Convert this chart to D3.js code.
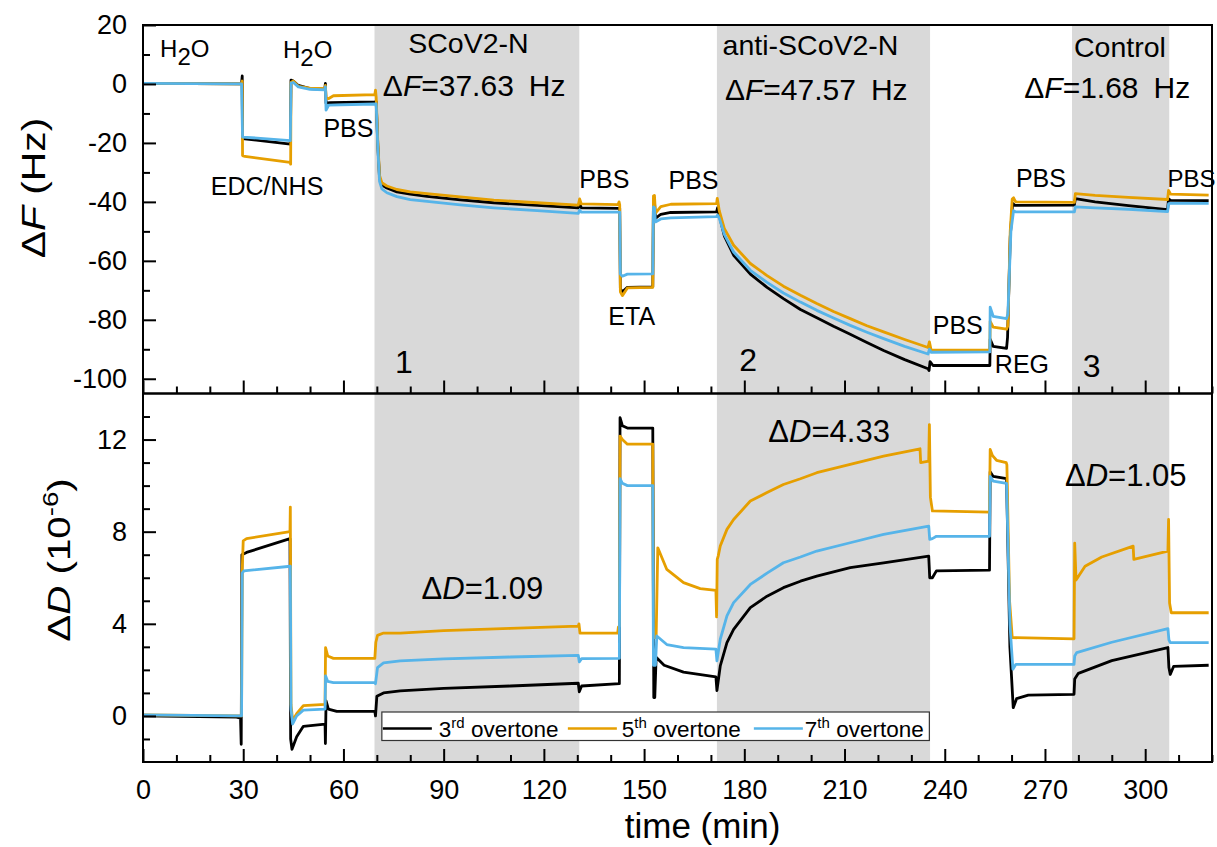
<!DOCTYPE html>
<html>
<head>
<meta charset="utf-8">
<script src="https://cdn.jsdelivr.net/npm/d3@7"></script>
<style>
  body { margin: 0; background: #fff; }
  svg { display: block; font-family: "Liberation Sans", Arial, sans-serif; }
</style>
</head>
<body>
<svg id="chart" width="1217" height="847"></svg>
<script>
// ---- data (time in min) ----
var timeTicks = [0, 30, 60, 90, 120, 150, 180, 210, 240, 270, 300];
var fTicks = [-100, -80, -60, -40, -20, 0, 20];
var dTicks = [0, 4, 8, 12];

// shaded injection windows [start, end] in min
var bands = [[69.3, 130.6], [171.8, 235.6], [278.1, 307.2]];

var seriesNames = ["3rd", "5th", "7th"];
var seriesColors = ["#000000", "#E69F00", "#56B4E9"];

// ΔF (Hz), [time, value]
var f3 = [[0,0.2],[29.5,0],[29.7,2.7],[29.8,-18.5],[44.1,-20.4],[44.3,1.3],[45,1.0],[46.5,-0.5],[50,-1.6],[54.4,-1.8],
  [54.6,0.2],[54.8,-6.5],[56,-6.3],[69.4,-6.1],[69.8,-6.0],[70.3,-21],[70.8,-31.8],[71.5,-34.2],[73,-35.3],[76,-36.6],
  [80,-37.4],[85,-38.1],[95,-39.3],[105,-40.3],[118,-41.2],[130.3,-42.0],[130.7,-40.5],[131.2,-42.0],[142.7,-42.2],
  [142.9,-69.5],[143.5,-70.5],[145,-69],[152.6,-68.8],[152.8,-39.5],[153.1,-39.8],[153.4,-45.6],[155,-44.2],[158,-43.6],
  [171.7,-43.4],[172.0,-42],[172.5,-44.5],[174,-51.5],[176.8,-58.1],[181.8,-64.5],[186.8,-69],[191.7,-72.8],[196.8,-76.5],
  [201.7,-79.3],[206.7,-82.2],[211.7,-84.9],[216.7,-87.7],[221.7,-90.4],[228,-93.5],[235.0,-96.6],[235.3,-97.2],
  [235.6,-94.2],[236.5,-95.5],[253.5,-95.5],[253.6,-86.6],[254.5,-89.0],[258.5,-89.7],[258.8,-86],[259.6,-52],
  [260.3,-40.5],[261,-41.2],[278.8,-41.1],[279.1,-38.9],[285,-40],[295,-41.3],[306.7,-42.6],[307.0,-39.0],
  [307.6,-39.5],[319,-39.6]];
var f5 = [[0,0.2],[29.5,0],[29.7,1.0],[29.8,-24.3],[30.5,-24.6],[44.0,-26.6],[44.2,-27.2],[44.3,0.5],[45,1.0],[46.5,-0.8],
  [50,-1.4],[54.4,-1.6],[54.6,-0.5],[54.8,-4.8],[55.5,-5.0],[57,-4.0],[69.4,-3.6],[69.6,-2.1],[69.8,-4.5],[70.3,-20],
  [70.8,-31.0],[71.5,-33.5],[73,-34.6],[76,-35.8],[80,-36.6],[85,-37.2],[95,-38.3],[105,-39.4],[118,-40.3],[130.3,-41.1],
  [130.7,-39.0],[131.2,-40.7],[142.2,-40.9],[142.5,-40.0],[142.7,-41],[142.9,-70.5],[143.5,-71.8],[145,-69.2],
  [152.6,-69.0],[152.8,-38],[153.1,-37.8],[153.4,-43.8],[155,-41.6],[158,-40.8],[171.7,-40.6],[171.9,-38.8],[172.5,-43],
  [174,-49],[176.8,-54.7],[181.8,-60.9],[186.8,-65],[191.7,-68.6],[196.8,-71.7],[201.7,-74.5],[206.7,-77.2],[211.7,-79.6],
  [216.7,-82],[221.7,-84.1],[228,-86.7],[235.0,-89.4],[235.4,-87.5],[235.9,-90.2],[253.5,-90.3],[253.6,-80.5],
  [254.5,-82.5],[258.5,-83.2],[258.9,-82],[259.6,-50],[260.2,-39],[260.6,-38.6],[261.2,-40],[278.8,-40.2],[279.1,-37.2],
  [285,-37.8],[295,-38.5],[306.7,-39.2],[307.0,-36.1],[307.6,-37.4],[319,-37.7]];
var f7 = [[0,0.2],[29.5,0],[29.8,-18.0],[44.1,-19.2],[44.3,0.3],[45,0.5],[46.5,-1.0],[50,-1.8],[54.4,-2.0],[54.6,-1.0],
  [54.8,-8.9],[55.6,-7.2],[69.4,-6.8],[69.8,-6.8],[70.3,-22],[70.8,-33],[71.5,-35.6],[73,-36.9],[76,-38.2],[80,-39.2],
  [85,-39.8],[95,-41.0],[105,-42.0],[118,-43.0],[130.3,-43.9],[130.7,-42.8],[131.2,-43.5],[142.7,-43.5],[142.9,-64.5],
  [143.5,-65.2],[145,-64.5],[152.6,-64.4],[152.8,-41.7],[153.1,-42],[153.4,-46.8],[155,-45.8],[158,-45.4],[171.7,-45.0],
  [172.0,-44.5],[172.5,-45.5],[174,-51],[176.8,-57.0],[181.8,-63.2],[186.8,-67.3],[191.7,-70.9],[196.8,-74.0],
  [201.7,-76.8],[206.7,-79.4],[211.7,-81.9],[216.7,-84.2],[221.7,-86.4],[228,-89],[235.0,-91.6],[235.4,-90.0],
  [235.9,-91.0],[253.5,-90.9],[253.6,-75.7],[254.5,-78.8],[258.5,-79.6],[258.9,-78],[259.8,-50],[260.6,-43],
  [261.3,-43.4],[278.8,-43.4],[279.1,-41.7],[285,-42.0],[295,-42.5],[306.7,-43.3],[307.0,-40.6],[307.6,-40.5],[319,-40.5]];

// ΔD (1e-6), [time, value]
var d3v = [[0,0],[28,-0.05],[29.2,-0.1],[29.4,-1.23],[29.6,7.0],[31,7.1],[44.0,7.7],[44.2,-1.0],[44.6,-1.45],[46,-0.9],
  [48,-0.45],[54.5,-0.36],[54.6,-1.2],[54.8,0.65],[55.5,0.3],[58,0.2],[69.4,0.2],[69.6,0.0],[70.0,0.85],[72,1.0],
  [77,1.09],[90,1.2],[110,1.3],[130.3,1.42],[130.6,1.05],[131.3,1.3],[142.6,1.4],[142.8,12.95],[143.5,12.6],[145,12.5],
  [152.6,12.5],[152.9,0.8],[153.2,0.8],[153.6,2.55],[156,2.2],[161.8,1.9],[171.5,1.7],[171.8,1.1],[172.8,2.17],
  [174.8,3.18],[176.8,3.76],[181.8,4.70],[186.8,5.2],[191.7,5.57],[196.8,5.85],[201.7,6.07],[211.7,6.44],[221.7,6.65],
  [235.2,6.94],[235.5,6.0],[236.3,6.0],[237.5,6.3],[253.4,6.33],[253.6,10.6],[254.5,10.4],[258.5,10.3],[259.5,3],
  [260.5,0.36],[261.5,0.75],[265,0.9],[278.7,0.94],[278.9,1.6],[280,1.85],[290,2.4],[306.8,2.97],[307.1,2.1],
  [307.5,1.8],[308.5,2.15],[319,2.2]];
var d5 = [[0,0.05],[29.5,0.0],[29.7,6.3],[30.0,7.6],[31,7.7],[44.0,8.0],[44.1,9.07],[44.3,0.5],[44.8,-0.2],[46,0.1],
  [48,0.45],[54.5,0.5],[54.65,2.97],[55.3,2.6],[57,2.5],[69.4,2.5],[69.7,3.2],[70.2,3.5],[72,3.6],[77,3.6],[90,3.7],
  [110,3.8],[130.3,3.9],[130.5,4.0],[130.8,3.6],[142.1,3.6],[142.3,3.85],[142.6,3.9],[142.8,12.15],[143.5,12.0],
  [145,11.8],[152.6,11.8],[152.8,3.4],[153.6,3.4],[154.1,7.3],[156.8,6.36],[161.8,5.79],[166.8,5.53],[171.5,5.45],
  [171.7,4.3],[171.9,6.8],[172.2,6.95],[172.8,7.38],[174.8,8.1],[176.8,8.53],[181.8,9.33],[186.8,9.7],[191.7,10.05],
  [196.8,10.3],[201.7,10.56],[211.7,10.92],[221.7,11.28],[232.6,11.6],[232.8,11.0],[235.2,11.06],[235.4,12.65],
  [235.7,9.5],[236.3,8.9],[253.4,8.85],[253.6,11.57],[254.3,11.3],[255.5,11.1],[258.4,11.0],[258.6,10.9],[259.4,5],
  [260.2,3.4],[278.7,3.35],[278.9,7.5],[279.3,5.9],[282,6.5],[287,6.9],[296.4,7.37],[296.6,6.8],[306.8,7.16],
  [307.0,8.53],[307.3,4.9],[307.8,4.48],[319,4.48]];
var d7 = [[0,0.05],[29.5,0.0],[29.7,6.2],[30.2,6.3],[44.1,6.5],[44.3,0.3],[44.8,-0.35],[46,0.0],[48,0.25],[54.5,0.3],
  [54.65,1.74],[55.3,1.5],[57,1.45],[69.4,1.45],[69.6,1.4],[70.2,2.1],[72,2.3],[77,2.39],[90,2.48],[110,2.56],
  [130.3,2.63],[130.6,2.35],[131.3,2.49],[142.6,2.5],[142.8,10.3],[143.5,10.1],[145,10.0],[152.6,10.0],[152.8,2.2],
  [153.4,2.2],[153.8,3.47],[156.8,3.1],[161.8,2.97],[171.5,2.9],[171.8,2.39],[172.8,3.33],[174.8,4.34],[176.8,4.92],
  [181.8,5.71],[186.8,6.2],[191.7,6.65],[196.8,6.9],[201.7,7.16],[211.7,7.52],[221.7,7.88],[235.2,8.24],[235.5,7.67],
  [236.3,7.7],[237.5,7.8],[253.4,7.8],[253.6,10.4],[254.5,10.2],[258.5,10.1],[259.5,4],[260.4,2.03],[261.3,2.24],
  [278.7,2.24],[278.9,2.6],[279.5,2.75],[290,3.2],[306.8,3.79],[307.1,3.3],[307.5,3.18],[319,3.18]];

// ---- layout ----
var margin = {top: 25, right: 5, bottom: 85, left: 143},
    width = 1217 - margin.left - margin.right,
    panelH = (847 - margin.top - margin.bottom) / 2;

var x = d3.scaleLinear().domain([0, 320]).range([0, width]);
var yF = d3.scaleLinear().domain([-105, 20]).range([panelH, 0]);
var yD = d3.scaleLinear().domain([-2, 14]).range([panelH, 0]);

var svg = d3.select("#chart");
var root = svg.append("g")
  .attr("transform", "translate(" + margin.left + "," + margin.top + ")");

// shaded bands across both panels
root.selectAll(".band")
  .data(bands)
  .enter().append("rect")
  .attr("class", "band")
  .attr("x", function(d) { return x(d[0]); })
  .attr("y", 0)
  .attr("width", function(d) { return x(d[1]) - x(d[0]); })
  .attr("height", panelH * 2)
  .attr("fill", "#d9d9d9");

var gTop = root.append("g");
var gBot = root.append("g").attr("transform", "translate(0," + panelH + ")");

function drawLines(g, y, sets) {
  var line = d3.line()
    .x(function(d) { return x(d[0]); })
    .y(function(d) { return y(d[1]); });
  g.selectAll(".series")
    .data(sets)
    .enter().append("path")
    .attr("class", "series")
    .attr("fill", "none")
    .attr("stroke", function(d, i) { return seriesColors[i]; })
    .attr("stroke-width", 2.8)
    .attr("stroke-linejoin", "round")
    .attr("d", line);
}
drawLines(gTop, yF, [f3, f5, f7]);
drawLines(gBot, yD, [d3v, d5, d7]);

// axes: ticks point inward
function styleAxis(sel) {
  sel.select(".domain").remove();
  sel.selectAll(".tick line").attr("stroke", "#000").attr("stroke-width", 2);
  sel.selectAll(".tick text").attr("fill", "#000").style("font-size", "27px");
}
var plainNum = function(d) { return String(d); };   // hyphen minus like the original

var minorT = d3.range(10, 321, 10).filter(function(v) { return v % 30 !== 0; });

[gTop, gBot].forEach(function(g, k) {
  g.append("g")
    .attr("transform", "translate(0," + panelH + ")")
    .call(d3.axisBottom(x).tickValues(minorT).tickSize(-7).tickFormat(""))
    .call(styleAxis);
  g.append("g")
    .attr("transform", "translate(0," + panelH + ")")
    .call(d3.axisBottom(x).tickValues(timeTicks).tickSize(-13).tickPadding(18)
      .tickFormat(k === 0 ? "" : plainNum))
    .call(styleAxis);
});

gTop.append("g")
  .call(d3.axisLeft(yF).tickValues(d3.range(-90, 20, 20)).tickSize(-7).tickFormat(""))
  .call(styleAxis);
gTop.append("g")
  .call(d3.axisLeft(yF).tickValues(fTicks).tickSize(-13).tickPadding(16).tickFormat(plainNum))
  .call(styleAxis);

gBot.append("g")
  .call(d3.axisLeft(yD).tickValues(d3.range(-1, 14, 1).filter(function(v) { return v % 4 !== 0; }))
    .tickSize(-7).tickFormat(""))
  .call(styleAxis);
gBot.append("g")
  .call(d3.axisLeft(yD).tickValues(dTicks).tickSize(-13).tickPadding(16).tickFormat(plainNum))
  .call(styleAxis);

// frames
[gTop, gBot].forEach(function(g) {
  g.append("rect")
    .attr("width", width).attr("height", panelH)
    .attr("fill", "none").attr("stroke", "#000").attr("stroke-width", 2);
});

// axis titles
svg.append("text")
  .attr("transform", "translate(45,188) rotate(-90) scale(1.2,1)")
  .attr("text-anchor", "middle")
  .style("font-size", "34px")
  .call(function(t) {
    t.append("tspan").text("\u0394");
    t.append("tspan").attr("font-style", "italic").text("F");
    t.append("tspan").text(" (Hz)");
  });

svg.append("text")
  .attr("transform", "translate(70,560) rotate(-90) scale(1.26,1)")
  .attr("text-anchor", "middle")
  .style("font-size", "32px")
  .call(function(t) {
    t.append("tspan").text("\u0394");
    t.append("tspan").attr("font-style", "italic").text("D");
    t.append("tspan").text(" (10");
    t.append("tspan").attr("dy", -12).style("font-size", "22px").text("-6");
    t.append("tspan").attr("dy", 12).text(")");
  });

svg.append("text")
  .attr("x", margin.left + x(167.5))
  .attr("y", 838)
  .attr("text-anchor", "middle")
  .style("font-size", "35px")
  .text("time (min)");

// annotations in data coordinates
function label(g, y, t, v, size, parts) {
  var txt = g.append("text")
    .attr("x", x(t)).attr("y", y(v))
    .style("font-size", size + "px");
  parts.forEach(function(p) {
    var s = txt.append("tspan").text(p.s);
    if (p.i) s.attr("font-style", "italic");
    if (p.dy) s.attr("dy", p.dy);
    if (p.dx) s.attr("dx", p.dx);
  });
}
function plain(s) { return [{s: s}]; }
function dF(val) { return [{s: "\u0394"}, {s: "F", i: 1}, {s: "=" + val}, {s: "Hz", dx: 15}]; }
function dD(val) { return [{s: "\u0394"}, {s: "D", i: 1}, {s: "=" + val}]; }
function h2o() { return [{s: "H"}, {s: "2", dy: 8}, {s: "O", dy: -8}]; }

label(gTop, yF, 5.1, 9.3, 24, h2o());
label(gTop, yF, 41.9, 8.8, 24, h2o());
label(gTop, yF, 20.3, -37.7, 25, plain("EDC/NHS"));
label(gTop, yF, 54.0, -17.9, 25, plain("PBS"));
label(gTop, yF, 79.4, 10.4, 28.5, plain("SCoV2-N"));
label(gTop, yF, 71.8, -4.1, 30, dF("37.63"));
label(gTop, yF, 75.4, -98.1, 32, plain("1"));
label(gTop, yF, 130.6, -35.4, 25, plain("PBS"));
label(gTop, yF, 139.3, -81.8, 25, plain("ETA"));
label(gTop, yF, 157.3, -35.7, 25, plain("PBS"));
label(gTop, yF, 173.5, 9.8, 28.5, plain("anti-SCoV2-N"));
label(gTop, yF, 174.2, -5.4, 30, dF("47.57"));
label(gTop, yF, 178.5, -97.3, 32, plain("2"));
label(gTop, yF, 236.4, -84.9, 25, plain("PBS"));
label(gTop, yF, 255.0, -98.1, 25, plain("REG"));
label(gTop, yF, 261.3, -35.0, 25, plain("PBS"));
label(gTop, yF, 281.3, -99.3, 32, plain("3"));
label(gTop, yF, 278.7, 9.3, 28.5, plain("Control"));
label(gTop, yF, 263.8, -4.9, 30, dF("1.68"));
label(gTop, yF, 306.7, -35.0, 24, plain("PBS"));

label(gBot, yD, 83.4, 5.06, 31, dD("1.09"));
label(gBot, yD, 187.2, 11.9, 31, dD("4.33"));
label(gBot, yD, 276.0, 10.0, 31, dD("1.05"));

// legend
var legend = gBot.append("g")
  .attr("transform", "translate(" + (x(71.5)) + "," + (yD(-2) - 50) + ")");
legend.append("rect")
  .attr("width", 547.5).attr("height", 28.5)
  .attr("fill", "#fff").attr("stroke", "#333").attr("stroke-width", 1.2);
var legX = [0, 185, 371];
var legItem = legend.selectAll(".leg")
  .data(seriesNames)
  .enter().append("g")
  .attr("class", "leg")
  .attr("transform", function(d, i) { return "translate(" + legX[i] + ",0)"; });
legItem.append("line")
  .attr("x1", 1).attr("x2", 50)
  .attr("y1", 16.5).attr("y2", 16.5)
  .attr("stroke", function(d, i) { return seriesColors[i]; })
  .attr("stroke-width", 2.6);
legItem.append("text")
  .attr("x", function(d, i) { return [57, 55, 52][i]; })
  .attr("y", 24.5)
  .style("font-size", "22.5px")
  .call(function(t) {
    t.append("tspan").text(function(d) { return d.charAt(0); });
    t.append("tspan").attr("dy", -9).style("font-size", "15px").text(function(d) { return d.slice(1); });
    t.append("tspan").attr("dy", 9).text(" overtone");
  });
</script>
</body>
</html>
